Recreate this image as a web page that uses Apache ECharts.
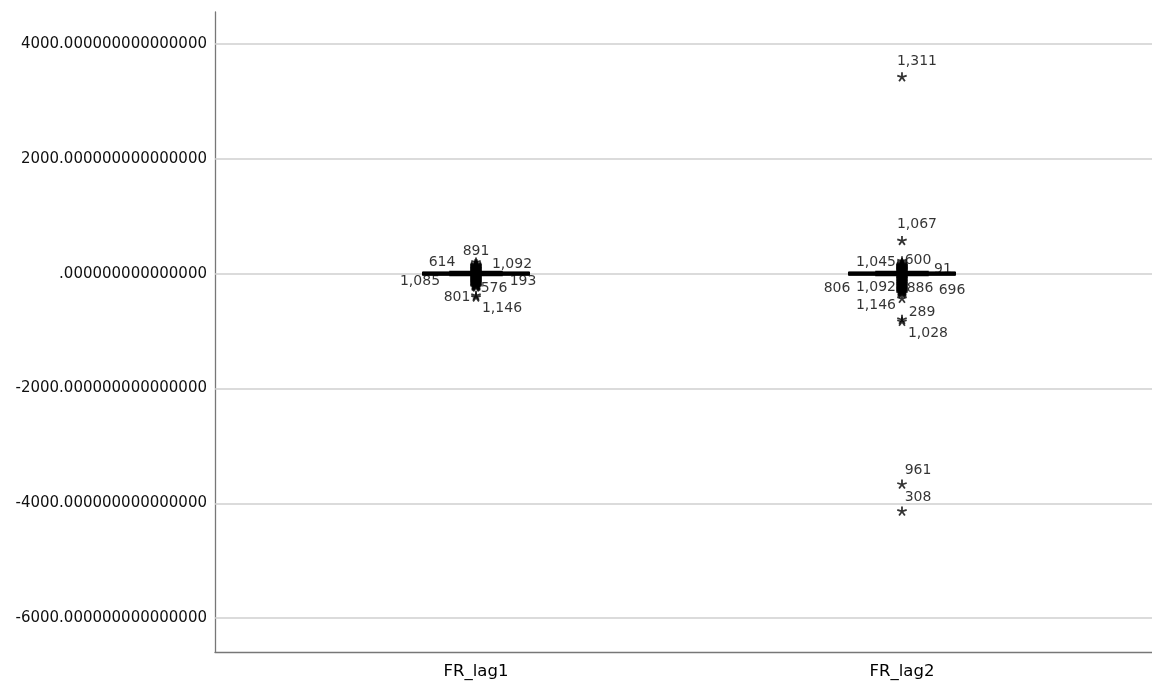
<!DOCTYPE html>
<html>
<head>
<meta charset="utf-8">
<script src="https://cdn.jsdelivr.net/npm/echarts@6/dist/echarts.min.js"></script>
<style>html,body{margin:0;padding:0;background:#fff;}#chart{width:1152px;height:683px;}</style>
</head>
<body>
<div id="chart"></div>
<script>
// ---- data ----
const categories = ['FR_lag1', 'FR_lag2'];
// [min, Q1, median, Q3, max]
const boxStats = [
  [-35, -30, 0, 30, 35],
  [-35, -30, 0, 30, 35]
];
const yTicks = [-6000, -4000, -2000, 0, 2000, 4000];
const lag1OutlierIds = ['891', '614', '1,092', '1,085', '193', '576', '801', '1,146'];
const lag1OutlierValues = [200, 70, 60, -20, -30, -170, -380, -410];
const lag2OutlierIds = ['1,311', '1,067', '1,045', '600', '91', '806', '1,092', '886', '696', '1,146', '289', '1,028', '961', '308'];
const lag2OutlierValues = [3426, 574, 190, 220, 50, -20, -150, -230, -60, -435, -800, -835, -3670, -4139];
// unlabeled outliers forming the dense cluster near zero
const lag1Cluster = [150, 130, 110, 95, 80, 65, 45, 30, 15, 5, -10, -25, -40, -55, -75, -90, -110, -125, -145, -160, -185, -205, -220];
const lag2Cluster = [150, 135, 115, 100, 85, 70, 55, 35, 20, 5, -10, -30, -45, -65, -80, -100, -120, -140, -165, -185, -205, -225, -250, -270, -290, -310, -330];

// ---- styles ----
const lag1LabelOffsets = [[0, -11], [-34, -7], [36, -6], [-56, 7], [47, 6], [18, 5], [-19, 2], [26, 11]];
const lag2LabelOffsets = [[15, -16], [15, -16], [-26, 0], [16, -1], [41, -1], [-65, 14], [-26, 5], [18, 2], [50, 13], [-26, 7], [20, -7], [26, 12], [16, -14], [16, -14]];
const allOffsets = lag1LabelOffsets.concat(lag2LabelOffsets);
const BOX_HALF = 53.5;

function asteriskPath(w) {
  const L = 100;
  let p = '';
  for (let k = 0; k < 5; k++) {
    const a = (-90 + 72 * k) * Math.PI / 180;
    const dx = Math.cos(a), dy = Math.sin(a);
    const nx = -dy, ny = dx;
    const pts = [
      [-nx * w, -ny * w],
      [dx * L - nx * w, dy * L - ny * w],
      [dx * L + nx * w, dy * L + ny * w],
      [nx * w, ny * w]
    ];
    p += 'M' + pts.map(q => q[0].toFixed(2) + ' ' + q[1].toFixed(2)).join(' L') + ' Z ';
  }
  return 'path://' + p;
}
const STAR = asteriskPath(18);
const BLOB_STAR = asteriskPath(30);

function outlierItems(xIdx, values, ids) {
  return values.map((v, i) => ({ value: [xIdx, v], name: ids[i] }));
}

const chart = echarts.init(document.getElementById('chart'), null, { renderer: 'canvas' });

chart.setOption({
  animation: false,
  backgroundColor: '#fff',
  grid: { left: 215, right: 0, top: 12, bottom: 31, containLabel: false },
  xAxis: {
    type: 'value',
    min: 0.3873,
    max: 2.5869,
    axisLine: { show: true, onZero: false, lineStyle: { color: '#777', width: 1.3 } },
    axisTick: { show: false },
    splitLine: { show: false },
    axisLabel: {
      customValues: [1, 2],
      formatter: v => categories[Math.round(v) - 1] || '',
      fontFamily: 'DejaVu Sans', fontSize: 16.5, color: '#000', margin: 11
    }
  },
  yAxis: {
    type: 'value',
    min: -6591,
    max: 4557,
    axisLine: { show: true, lineStyle: { color: '#777', width: 1.3 } },
    axisTick: { show: true, customValues: yTicks, length: 0 },
    splitLine: { show: false },
    axisLabel: {
      customValues: yTicks,
      formatter: v => v === 0 ? '.000000000000000' : v.toFixed(15),
      fontFamily: 'DejaVu Sans', fontSize: 15, color: '#111', margin: 8
    }
  },
  series: [
    {
      type: 'line',
      data: [],
      z: 0,
      markLine: {
        silent: true,
        z: 1,
        symbol: 'none',
        animation: false,
        label: { show: false },
        lineStyle: { color: '#cfcfcf', width: 1.5, type: 'solid' },
        data: yTicks.map(v => ({ yAxis: v }))
      }
    },
    {
      type: 'custom',
      z: 10,
      data: boxStats.map((s, i) => [i + 1].concat(s)),
      encode: { x: 0, y: [1, 2, 3, 4, 5] },
      renderItem: function (params, api) {
        const x = api.value(0);
        const pMin = api.coord([x, api.value(1)]);
        const pQ1 = api.coord([x, api.value(2)]);
        const pMed = api.coord([x, api.value(3)]);
        const pQ3 = api.coord([x, api.value(4)]);
        const pMax = api.coord([x, api.value(5)]);
        const cx = pMed[0];
        const st = { stroke: '#000', lineWidth: 1.5, fill: null };
        return {
          type: 'group',
          children: [
            { type: 'line', shape: { x1: cx, y1: pMax[1], x2: cx, y2: pMin[1] }, style: st },
            { type: 'line', shape: { x1: cx - BOX_HALF / 2, y1: pMax[1], x2: cx + BOX_HALF / 2, y2: pMax[1] }, style: st },
            { type: 'line', shape: { x1: cx - BOX_HALF / 2, y1: pMin[1], x2: cx + BOX_HALF / 2, y2: pMin[1] }, style: st },
            { type: 'rect', shape: { x: cx - BOX_HALF, y: pQ3[1], width: BOX_HALF * 2, height: pQ1[1] - pQ3[1] }, style: { stroke: '#000', lineWidth: 1, fill: '#000' } },
            { type: 'line', shape: { x1: cx - BOX_HALF, y1: pMed[1], x2: cx + BOX_HALF, y2: pMed[1] }, style: { stroke: '#000', lineWidth: 3 } }
          ]
        };
      }
    },
    {
      type: 'scatter',
      z: 11,
      symbol: BLOB_STAR,
      symbolSize: 12,
      symbolKeepAspect: true,
      itemStyle: { color: '#000' },
      data: lag1Cluster.map(v => [1, v]).concat(lag2Cluster.map(v => [2, v]))
    },
    {
      type: 'scatter',
      z: 12,
      symbol: STAR,
      symbolSize: 10,
      symbolKeepAspect: true,
      itemStyle: { color: '#000' },
      label: {
        show: true,
        position: 'inside',
        formatter: p => p.name,
        fontFamily: 'DejaVu Sans', fontSize: 14, color: '#000'
      },
      labelLayout: function (params) {
        const o = allOffsets[params.dataIndex] || [0, 0];
        return { dx: o[0], dy: o[1], hideOverlap: false };
      },
      data: outlierItems(1, lag1OutlierValues, lag1OutlierIds)
        .concat(outlierItems(2, lag2OutlierValues, lag2OutlierIds))
    }
  ]
});
</script>
</body>
</html>
